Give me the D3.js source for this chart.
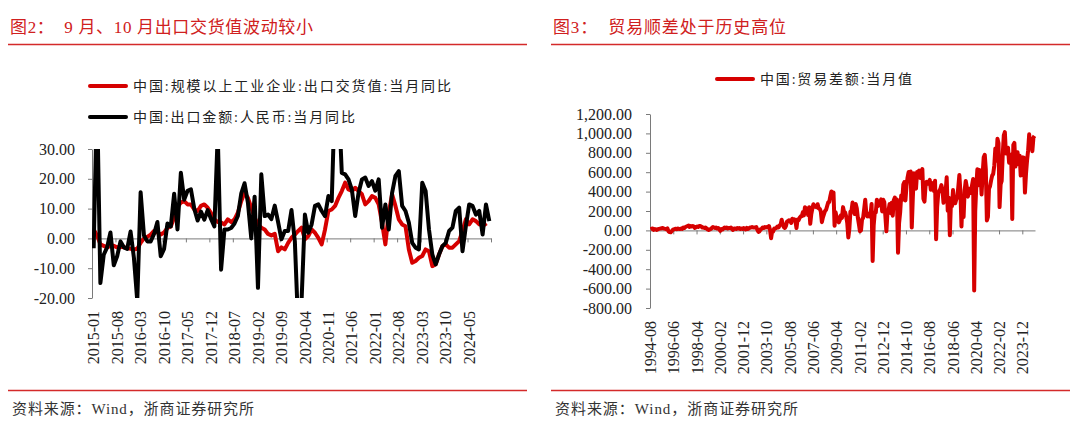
<!DOCTYPE html>
<html>
<head>
<meta charset="utf-8">
<script src="https://cdn.jsdelivr.net/npm/d3@7"></script>
<style>
  body { margin: 0; background: #fff; }
  svg { display: block; font-family: "Liberation Serif", "Noto Sans CJK SC", serif; }
  .pre { white-space: pre; }
</style>
</head>
<body>
<svg id="chart" width="1080" height="432"></svg>
<script>
// ---- data ----
var leftTitle = "图2：  9 月、10 月出口交货值波动较小";
var rightTitle = "图3：  贸易顺差处于历史高位";
var sourceText = "资料来源：Wind，浙商证券研究所";

var seriesRedName = "中国:规模以上工业企业:出口交货值:当月同比";
var seriesBlackName = "中国:出口金额:人民币:当月同比";
var seriesTradeName = "中国:贸易差额:当月值";

var leftStart = "2015-01";
var rightStart = "1994-08";

var leftTickLabels = ["2015-01", "2015-08", "2016-03", "2016-10", "2017-05", "2017-12", "2018-07", "2019-02",
  "2019-09", "2020-04", "2020-11", "2021-06", "2022-01", "2022-08", "2023-03", "2023-10", "2024-05"];
var rightTickLabels = ["1994-08", "1996-06", "1998-04", "2000-02", "2001-12", "2003-10", "2005-08", "2007-06",
  "2009-04", "2011-02", "2012-12", "2014-10", "2016-08", "2018-06", "2020-04", "2022-02", "2023-12"];

var leftYTicks = [-20, -10, 0, 10, 20, 30];
var rightYTicks = [-800, -600, -400, -200, 0, 200, 400, 600, 800, 1000, 1200];

// 出口交货值 当月同比 (%), 2015-01 .. 2024-10
var exportDelivery = [
  3, 1, -2, -2.5, -3, -2.5, -2.5, -3, -2.8, -3, -3.2, -3.5,
  -3.7, -3.5, -1.5, 0, 0.5, 1.3, 2.5, 2, 1.3, 2, 3.5, 4,
  7, 10.5, 12, 12.5, 11.4, 11.4, 9.7, 9.2, 10.9, 11.4, 10.3, 8.5,
  6.4, 5.5, 5.3, 4.7, 6.4, 5.5, 6.4, 8.6, 12.5, 15.3, 13.6, 10.3,
  7, 4.7, 3.6, 3, 1.5, 1, 1.5, -4.3, -3, -3.7, -1.5, 0.2,
  1.3, 2.5, 3.6, -0.3, 0.8, 3, 1.9, 0.2, -2, 3, 9.2, 9.7,
  10.9, 13.6, 15.9, 18.7, 16.4, 15.9, 17, 15.9, 14.8, 11.4, 12.5, 14.2,
  13.6, 11.4, 5.3, -2, 8.6, 14.8, 10.9, 6.4, 4.7, 4.1, -3.7, -8.2,
  -7.6, -6.5, -5.9, -3.7, -4.3, -9.3, -8.7, -5.4, -2.6, -2, -3.1, -3.1,
  -2, -0.9, 2.5, 6.4, 4.7, 6.4, 5.8, 4.7, 5.8, 4.1
];

// 出口金额(人民币) 当月同比 (%), 2015-01 .. 2024-11
var exportRmb = [
  -3.3, 48, -15, -5.5, -3, 2, -9, -6, -1, -3, -3.5, 2.3,
  -6.5, -21, 15.5, 1, -1, -1, 1.5, 5.5, -6, -3.5, 5, 4,
  15, 3, 22, 13, 16, 16.5, 10, 6, 9, 6.3, 9.5, 6.5,
  4, 35, -10.5, 3, 3, 3.5, 5, 7.5, 15, 18.5, 12, 0,
  14, -16.6, 21.5, 7.5, 8, 6.5, 11, 5.5, -0.3, 2.5, 2.5, 9.5,
  -1, -30, -21, 8, 1.9, 4.7, 10.9, 11.4, 9.2, 7.5, 14.2, 12.5,
  50, 48, 22, 21.5, 19.8, 16.4, 7.5, 15.3, 19.8, 20.4, 17.6, 19.2,
  16, 19.8, 3.6, 11.4, 3, 15.3, 21, 22.6, 10.9, 9.2, 5.3, -1.5,
  -3.1, -3.7, 18.7, 15.9, 3, -5.4, -8.7, -5.4, -2.6, -1.5, 2.5, 3.6,
  9.2, 10.3, -4.3, 4.1, 11.4, 10.9, 8, 9.2, 1.3, 11.4, 5.8
];

// 贸易差额 当月值 (亿美元), 1994-08 .. 2024-11
var tradeBalance = [
  12, 18, 20, 5, 15,
  10, 5, 12, 15, 18, 20, 25, 22, 18, 15, 12, 20,
  -10, -18, -20, -8, 5, 10, 15, 18, 12, 20, 15, 15,
  20, 15, 30, 25, 35, 40, 45, 50, 35, 45, 40, 45,
  40, 25, 35, 40, 35, 45, 45, 40, 30, 30, 25, 30,
  20, 10, 5, 10, 15, 25, 35, 30, 25, 30, 20, 25,
  10, -5, 15, 10, 20, 30, 25, 30, 20, 25, 25, 30,
  15, 5, 20, 20, 15, 25, 20, 25, 15, 20, 15, 25,
  20, 10, 25, 15, 20, 30, 30, 35, 30, 30, 30, 35,
  5, -15, -10, 10, 15, 30, 25, 35, 30, 35, 30, 45,
  5, -80, -5, -10, 20, 20, 25, 40, 30, 50, 60, 110,
  65, 35, 25, 45, 90, 97, 105, 100, 76, 120, 105, 113,
  95, 24, 112, 105, 130, 145, 146, 188, 154, 238, 229, 210,
  158, 238, 68, 169, 225, 269, 244, 250, 239, 270, 226, 222,
  195, 85, 134, 167, 202, 213, 252, 289, 294, 353, 401, 390,
  391, 48, 186, 131, 134, 83, 106, 157, 129, 240, 191, 184,
  142, 76, -72, 17, 195, 200, 287, 200, 169, 271, 229, 131,
  64, -9, 1, 114, 130, 222, 315, 178, 145, 170, 145, 165,
  272, -315, 53, 184, 187, 317, 251, 266, 276, 320, 196, 316,
  292, 153, -9, 181, 204, 271, 178, 286, 152, 311, 338, 256,
  318, -230, 77, 184, 359, 316, 473, 498, 309, 454, 545, 601,
  600, 606, 30, 341, 590, 465, 431, 602, 603, 617, 541, 606,
  632, 326, 297, 456, 500, 481, 502, 520, 420, 490, 446, 407,
  513, -91, 239, 380, 408, 427, 467, 419, 285, 381, 402, 547,
  203, 337, -50, 287, 250, 416, 280, 279, 317, 340, 447, 571,
  391, 41, 326, 138, 417, 510, 450, 348, 397, 428, 387, 467,
  530, -620, 199, 453, 630, 465, 623, 589, 370, 584, 754, 780,
  630, 103, 138, 429, 455, 515, 565, 583, 667, 845, 717, 945,
  900, 240, 473, 511, 787, 979, 1013, 793, 847, 852, 698, 780,
  780, 117, 882, 902, 659, 706, 806, 683, 771, 565, 683, 753,
  750, 390, 585, 723, 825, 990, 846, 910, 817, 957, 974
];

// ---- helpers ----
function monthList(start, n) {
  var y = +start.slice(0, 4), m = +start.slice(5, 7) - 1, out = [];
  for (var i = 0; i < n; i++) {
    out.push((y + Math.floor((m + i) / 12)) + "-" + String((m + i) % 12 + 1).padStart(2, "0"));
  }
  return out;
}

var loc = d3.formatLocale({decimal: ".", thousands: ",", grouping: [3], currency: ["", ""], minus: "-"});
var RED = "#d60000", TITLE_RED = "#d02020", AXIS = "#7a7a7a", TEXT = "#222";

var svg = d3.select("#chart");
svg.append("rect").attr("width", 1080).attr("height", 432).attr("fill", "#fff");

function frame(x0, x1, title, titleEnd, srcEnd) {
  svg.append("text")
      .attr("class", "pre")
      .attr("x", x0 + 1).attr("y", 33)
      .attr("font-size", 17)
      .attr("fill", TITLE_RED)
      .attr("textLength", titleEnd - x0 - 1)
      .attr("lengthAdjust", "spacing")
      .text(title);
  svg.append("line")
      .attr("x1", x0 - 1).attr("x2", x1)
      .attr("y1", 44.5).attr("y2", 44.5)
      .attr("stroke", "#d42a2a").attr("stroke-width", 1.5);
  svg.append("line")
      .attr("x1", x0 - 1).attr("x2", x1)
      .attr("y1", 390.5).attr("y2", 390.5)
      .attr("stroke", "#d42a2a").attr("stroke-width", 1.5);
  svg.append("text")
      .attr("x", x0 + 3).attr("y", 414)
      .attr("font-size", 15)
      .attr("fill", "#333")
      .attr("textLength", srcEnd - x0 - 3)
      .attr("lengthAdjust", "spacing")
      .text(sourceText);
}

function legendItem(x, y, color, label, textEnd) {
  svg.append("line")
      .attr("x1", x + 2).attr("x2", x + 38)
      .attr("y1", y).attr("y2", y)
      .attr("stroke", color).attr("stroke-width", 4)
      .attr("stroke-linecap", "round");
  svg.append("text")
      .attr("x", x + 45).attr("y", y)
      .attr("dominant-baseline", "central")
      .attr("font-size", 14)
      .attr("fill", TEXT)
      .attr("textLength", textEnd - x - 45)
      .attr("lengthAdjust", "spacing")
      .text(label);
}

function styleAxis(g) {
  g.selectAll(".domain").attr("stroke", AXIS);
  g.selectAll(".tick line").attr("stroke", AXIS);
  g.selectAll("text").attr("font-size", 16).attr("fill", TEXT)
      .attr("font-family", "Liberation Serif");
}

function drawChart(opt) {
  var cats = monthList(opt.start, opt.n);
  var x = d3.scaleBand().domain(d3.range(opt.n)).range([opt.x0, opt.x1]);
  var bw = x.bandwidth();
  var edge = d3.scaleLinear().domain([0, opt.n]).range([opt.x0, opt.x1]);
  var y = d3.scaleLinear().domain(opt.yDomain).range([opt.yBottom, opt.yTop]);

  // y axis
  var gy = svg.append("g")
      .attr("transform", "translate(" + opt.x0 + ",0)")
      .call(d3.axisLeft(y)
          .tickValues(opt.yTicks)
          .tickSize(4)
          .tickSizeOuter(0)
          .tickPadding(opt.yPad)
          .tickFormat(loc.format(opt.yFormat)));
  styleAxis(gy);

  // x axis at zero, tick marks between categories
  var gx = svg.append("g")
      .attr("transform", "translate(0," + y(0) + ")")
      .call(d3.axisBottom(edge)
          .tickValues(d3.range(opt.every, opt.n + 1, opt.every))
          .tickSize(4)
          .tickSizeOuter(0)
          .tickFormat(""));
  styleAxis(gx);

  // category labels below the plot
  svg.append("g").selectAll("text")
    .data(opt.labels)
    .enter().append("text")
      .attr("transform", function(d) {
        return "translate(" + (x(cats.indexOf(d)) + bw / 2) + "," + opt.labelTop + ") rotate(-90)";
      })
      .attr("text-anchor", "end")
      .attr("dy", "0.35em")
      .attr("font-size", 16)
      .attr("fill", TEXT)
      .text(function(d) { return d; });

  var line = d3.line()
      .x(function(d, i) { return x(i) + bw / 2; })
      .y(function(d) { return y(d); });

  var clipId = "clip-" + opt.start;
  svg.append("clipPath").attr("id", clipId)
    .append("rect")
      .attr("x", opt.x0).attr("y", opt.yTop)
      .attr("width", opt.x1 - opt.x0 + 4).attr("height", opt.yBottom - opt.yTop);

  var gl = svg.append("g").attr("clip-path", "url(#" + clipId + ")");
  opt.series.forEach(function(s) {
    gl.append("path")
        .datum(s.values)
        .attr("fill", "none")
        .attr("stroke", s.color)
        .attr("stroke-width", 4)
        .attr("stroke-linejoin", "round")
        .attr("d", line);
  });
}

// ---- left panel ----
frame(9, 527, leftTitle, 313, 254);
legendItem(88, 86, RED, seriesRedName, 451);
legendItem(88, 117, "#000", seriesBlackName, 355);

drawChart({
  start: leftStart, n: exportRmb.length,
  x0: 92, x1: 491, yTop: 149, yBottom: 298,
  yDomain: [-20, 30], yTicks: leftYTicks, yFormat: ".2f", yPad: 13,
  every: 7, labels: leftTickLabels, labelTop: 311,
  series: [
    {values: exportDelivery, color: RED},
    {values: exportRmb, color: "#000"}
  ]
});

// ---- right panel ----
frame(552, 1070, rightTitle, 786, 798);
legendItem(715, 79, RED, seriesTradeName, 912);

drawChart({
  start: rightStart, n: tradeBalance.length,
  x0: 650, x1: 1035, yTop: 114, yBottom: 308,
  yDomain: [-800, 1200], yTicks: rightYTicks, yFormat: ",.2f", yPad: 14,
  every: 22, labels: rightTickLabels, labelTop: 321,
  series: [
    {values: tradeBalance, color: RED}
  ]
});
</script>
</body>
</html>
